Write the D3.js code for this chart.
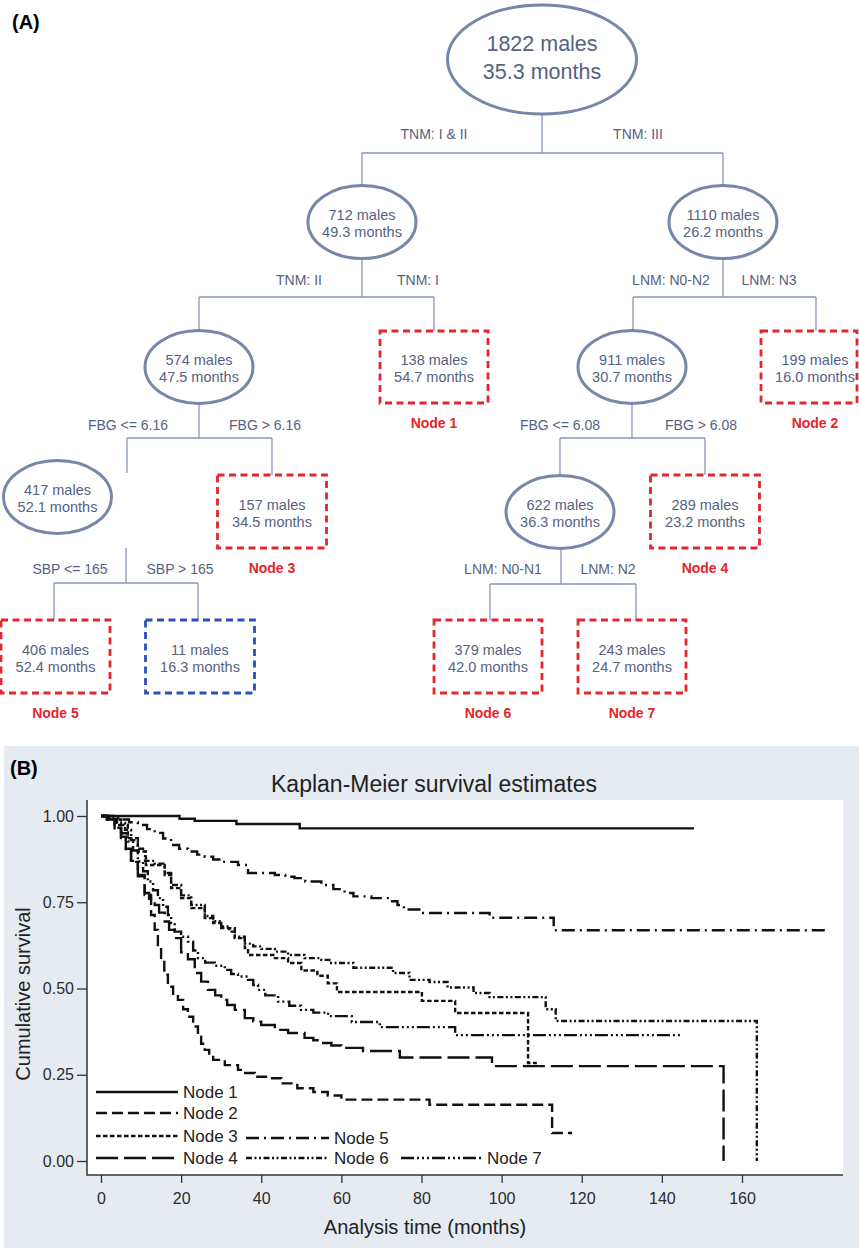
<!DOCTYPE html>
<html>
<head>
<meta charset="utf-8">
<script src="https://cdn.jsdelivr.net/npm/d3@7"></script>
<style>
body { margin: 0; background: #fff; }
svg { display: block; font-family: Arial, "Liberation Sans", sans-serif; }
</style>
</head>
<body>
<script>
var w = 859;
var h = 1249;

// ---------- panel A data ----------
var treeIds = ["root", "n712", "n1110", "n574", "node1", "n911", "node2", "n417", "node3", "n622", "node4", "node5", "n11", "node6", "node7"];
var treeCounts = [1822, 712, 1110, 574, 138, 911, 199, 417, 157, 622, 289, 406, 11, 379, 243];
var treeMonths = ["35.3", "49.3", "26.2", "47.5", "54.7", "30.7", "16.0", "52.1", "34.5", "36.3", "23.2", "52.4", "16.3", "42.0", "24.7"];
var treeNames = [null, null, null, null, "Node 1", null, "Node 2", null, "Node 3", null, "Node 4", "Node 5", null, "Node 6", "Node 7"];

var splitLeft = ["TNM: I & II", "TNM: II", "LNM: N0-N2", "FBG <= 6.16", "FBG <= 6.08", "SBP <= 165", "LNM: N0-N1"];
var splitRight = ["TNM: III", "TNM: I", "LNM: N3", "FBG > 6.16", "FBG > 6.08", "SBP > 165", "LNM: N2"];

// ---------- panel B data ----------
var nodeLabels = ["Node 1", "Node 2", "Node 3", "Node 4", "Node 5", "Node 6", "Node 7"];
var yTicks = [0, 0.25, 0.5, 0.75, 1];
var xTicks = [0, 20, 40, 60, 80, 100, 120, 140, 160];

var node1Surv = [[0,1],[19.6,0.992],[23.4,0.986],[33.8,0.977],[49.6,0.964],[148,0.964]];
var node2Surv = [[0,1],[1.5,0.99],[3.4,0.964],[5,0.936],[6.2,0.9],[7.5,0.867],[9.2,0.829],[10.9,0.771],[12.5,0.713],[13.4,0.67],[14.2,0.626],[15,0.583],[15.8,0.54],[16.7,0.505],[18,0.485],[19.2,0.467],[20.5,0.44],[21.7,0.418],[23,0.39],[24.2,0.36],[25,0.34],[25.9,0.322],[27,0.305],[28,0.293],[30.9,0.278],[34.2,0.264],[36,0.255],[38.4,0.244],[41.7,0.24],[45,0.225],[49,0.211],[53,0.2],[56.6,0.19],[60,0.178],[82,0.163],[112.6,0.081],[117.6,0.081]];
var node3Surv = [[0,1],[2,0.99],[5,0.974],[6.7,0.936],[9.2,0.897],[11.2,0.858],[15.9,0.829],[17.5,0.791],[20,0.762],[22.5,0.733],[25.9,0.704],[28,0.69],[30,0.675],[33.4,0.646],[35.9,0.617],[36.7,0.597],[43.4,0.588],[46.7,0.574],[50,0.552],[54,0.537],[56.6,0.515],[58.9,0.49],[80.1,0.464],[88.4,0.429],[106.6,0.284],[108.8,0.284]];
var node4Surv = [[0,1],[1.5,0.99],[3.4,0.966],[5,0.94],[6.2,0.905],[7.5,0.87],[9.2,0.825],[10.9,0.777],[12,0.76],[13.4,0.742],[14.5,0.72],[15.9,0.694],[17,0.67],[18.4,0.646],[20,0.605],[21.7,0.585],[23.4,0.545],[25,0.52],[26.7,0.496],[28.5,0.48],[30,0.467],[31.5,0.452],[33.4,0.438],[35.9,0.414],[38,0.404],[40,0.394],[43.4,0.38],[46.7,0.371],[50.8,0.357],[53,0.35],[55,0.342],[57.5,0.335],[60,0.328],[65.4,0.319],[74.6,0.3],[97.6,0.275],[155.4,0]];
var node5Surv = [[0,1],[3,0.995],[5,0.99],[7,0.982],[9.2,0.974],[11.5,0.962],[13.4,0.951],[15.5,0.935],[17.5,0.916],[19.5,0.905],[21.7,0.897],[24,0.888],[25.9,0.882],[28,0.874],[30,0.867],[34.2,0.858],[36.7,0.835],[43.4,0.829],[46,0.824],[48.3,0.82],[51,0.81],[55,0.8],[58,0.788],[60.8,0.777],[63,0.767],[67.5,0.762],[72,0.753],[74,0.742],[75.6,0.729],[80,0.719],[97,0.705],[113,0.669],[181,0.669]];
var node6Surv = [[0,1],[2,0.995],[4,0.98],[6,0.96],[7.5,0.93],[9.2,0.905],[11,0.87],[13.4,0.862],[15.9,0.835],[17.5,0.8],[20,0.77],[22.5,0.742],[25.9,0.71],[28,0.695],[30,0.68],[32,0.665],[33.4,0.65],[35.9,0.63],[38,0.622],[40,0.615],[43.4,0.607],[46.7,0.597],[50.8,0.588],[55,0.583],[57,0.574],[63,0.56],[72.9,0.545],[77,0.525],[82,0.519],[86.5,0.503],[93,0.487],[97,0.475],[111,0.44],[113.5,0.406],[163.7,0]];
var node7Surv = [[0,1],[1.5,0.992],[3.4,0.974],[5,0.95],[6.7,0.926],[8,0.9],[9.2,0.868],[10.5,0.84],[11.7,0.81],[13,0.785],[14.2,0.762],[15.5,0.737],[16.7,0.713],[17.5,0.69],[18.4,0.665],[20,0.65],[21.7,0.636],[23,0.61],[24.2,0.588],[26,0.575],[28.4,0.566],[30.9,0.554],[32.5,0.542],[34.2,0.535],[36.7,0.525],[38,0.51],[39.2,0.496],[41,0.48],[44.2,0.462],[47,0.45],[49.9,0.438],[53,0.43],[56.7,0.42],[62.6,0.403],[69.6,0.388],[88.4,0.365],[144.5,0.365]];

var survSeries = [node1Surv, node2Surv, node3Surv, node4Surv, node5Surv, node6Surv, node7Surv];

// ---------- layout / style ----------
var textCol = "#56627f";
var lineCol = "#8797bb";
var ellCol = "#7687a9";
var redCol = "#e2262b";
var blueCol = "#2c4fbf";

var treeLayout = {
  root:  {x: 542, y: 59.5, shape: "ellipse", rx: 94.5, ry: 54.5, big: true},
  n712:  {x: 362, y: 222, shape: "ellipse", rx: 54, ry: 36.5},
  n1110: {x: 723, y: 222, shape: "ellipse", rx: 54, ry: 36.5},
  n574:  {x: 199, y: 367, shape: "ellipse", rx: 54, ry: 36.5},
  node1: {x: 434, y: 367, shape: "box", bw: 108, bh: 72, col: redCol},
  n911:  {x: 632, y: 367, shape: "ellipse", rx: 54, ry: 36.5},
  node2: {x: 809, y: 367, shape: "box", bw: 96, bh: 72, col: redCol, tx: 815},
  n417:  {x: 57.5, y: 497, shape: "ellipse", rx: 54, ry: 36.5},
  node3: {x: 272, y: 511.5, shape: "box", bw: 109, bh: 73, col: redCol},
  n622:  {x: 560, y: 512, shape: "ellipse", rx: 54, ry: 36.5},
  node4: {x: 705, y: 511.5, shape: "box", bw: 109, bh: 73, col: redCol},
  node5: {x: 55.5, y: 656.5, shape: "box", bw: 109, bh: 73, col: redCol},
  n11:   {x: 200, y: 656.5, shape: "box", bw: 109, bh: 73, col: blueCol},
  node6: {x: 488, y: 656.5, shape: "box", bw: 108, bh: 73, col: redCol},
  node7: {x: 632, y: 656.5, shape: "box", bw: 108, bh: 73, col: redCol}
};

var splitLayout = [
  {tx: 542, y0: 114, bar: 153, drops: [362, 723], ends: [185, 185], lx: [434, 638], ly: 139},
  {tx: 362, y0: 259, bar: 297, drops: [199, 434], ends: [331, 331], lx: [299, 418], ly: 284.5},
  {tx: 723, y0: 259, bar: 297, drops: [633, 816], ends: [331, 331], lx: [671, 769], ly: 284.5},
  {tx: 199, y0: 403, bar: 438, drops: [127, 272], ends: [473, 475], lx: [128, 265], ly: 430},
  {tx: 632, y0: 403, bar: 438, drops: [560, 705], ends: [475, 475], lx: [560, 701], ly: 430},
  {tx: 126, y0: 548, bar: 583, drops: [54, 198], ends: [620, 620], lx: [70, 180], ly: 574},
  {tx: 561, y0: 549, bar: 584, drops: [490, 636], ends: [620, 620], lx: [503, 608], ly: 574}
];

var svg = d3.select("body")
  .append("svg")
  .attr("width", w)
  .attr("height", h);

svg.append("rect").attr("width", w).attr("height", h).attr("fill", "#fff");

// ---------- (A) tree ----------
svg.append("text")
  .attr("x", 12).attr("y", 29)
  .attr("font-size", 20).attr("font-weight", "bold")
  .text("(A)");

var conn = svg.append("g")
  .attr("stroke", lineCol)
  .attr("stroke-width", 1.3)
  .attr("fill", "none");

splitLayout.forEach(function(s, i) {
  var p = d3.path();
  p.moveTo(s.tx, s.y0); p.lineTo(s.tx, s.bar);
  p.moveTo(s.drops[0], s.bar); p.lineTo(s.drops[1], s.bar);
  s.drops.forEach(function(dx, j) {
    p.moveTo(dx, s.bar); p.lineTo(dx, s.ends[j]);
  });
  conn.append("path").attr("d", p.toString());

  [splitLeft[i], splitRight[i]].forEach(function(lab, j) {
    svg.append("text")
      .attr("x", s.lx[j]).attr("y", s.ly)
      .attr("text-anchor", "middle")
      .attr("font-size", 14)
      .attr("fill", textCol)
      .text(lab);
  });
});

var treeNodes = treeIds.map(function(id, i) {
  return {id: id, count: treeCounts[i], months: treeMonths[i], name: treeNames[i], lay: treeLayout[id]};
});

var ng = svg.selectAll("g.tnode")
  .data(treeNodes)
  .enter()
  .append("g")
  .attr("class", "tnode");

ng.filter(function(d) { return d.lay.shape == "ellipse"; })
  .append("ellipse")
  .attr("cx", function(d) { return d.lay.x; })
  .attr("cy", function(d) { return d.lay.y; })
  .attr("rx", function(d) { return d.lay.rx; })
  .attr("ry", function(d) { return d.lay.ry; })
  .attr("fill", "#fff")
  .attr("stroke", ellCol)
  .attr("stroke-width", 3);

ng.filter(function(d) { return d.lay.shape == "box"; })
  .append("rect")
  .attr("x", function(d) { return d.lay.x - d.lay.bw / 2; })
  .attr("y", function(d) { return d.lay.y - d.lay.bh / 2; })
  .attr("width", function(d) { return d.lay.bw; })
  .attr("height", function(d) { return d.lay.bh; })
  .attr("fill", "#fff")
  .attr("stroke", function(d) { return d.lay.col; })
  .attr("stroke-width", 2.8)
  .attr("stroke-dasharray", "7,4.5");

ng.append("text")
  .attr("x", function(d) { return d.lay.tx || d.lay.x; })
  .attr("y", function(d) { return d.lay.big ? d.lay.y - 8.5 : d.lay.y - 2; })
  .attr("text-anchor", "middle")
  .attr("font-size", function(d) { return d.lay.big ? 21.5 : 14.5; })
  .attr("fill", textCol)
  .text(function(d) { return d.count + " males"; });

ng.append("text")
  .attr("x", function(d) { return d.lay.tx || d.lay.x; })
  .attr("y", function(d) { return d.lay.big ? d.lay.y + 19.5 : d.lay.y + 15; })
  .attr("text-anchor", "middle")
  .attr("font-size", function(d) { return d.lay.big ? 21.5 : 14.5; })
  .attr("fill", textCol)
  .text(function(d) { return d.months + " months"; });

ng.filter(function(d) { return d.name; })
  .append("text")
  .attr("x", function(d) { return d.lay.tx || d.lay.x; })
  .attr("y", function(d) { return d.lay.y + d.lay.bh / 2 + 25; })
  .attr("text-anchor", "middle")
  .attr("font-size", 14)
  .attr("font-weight", "bold")
  .attr("fill", redCol)
  .text(function(d) { return d.name; });

// ---------- (B) Kaplan-Meier ----------
svg.append("rect")
  .attr("x", 4).attr("y", 746)
  .attr("width", w - 4).attr("height", 502)
  .attr("fill", "#e5ebf0");

svg.append("rect")
  .attr("x", 87).attr("y", 800)
  .attr("width", 756).attr("height", 375)
  .attr("fill", "#fff");

svg.append("text")
  .attr("x", 10).attr("y", 775)
  .attr("font-size", 20).attr("font-weight", "bold")
  .text("(B)");

svg.append("text")
  .attr("x", 434).attr("y", 792)
  .attr("text-anchor", "middle")
  .attr("font-size", 23)
  .attr("fill", "#222")
  .text("Kaplan-Meier survival estimates");

var xScale = d3.scaleLinear().domain([0, 160]).range([101, 742]);
var yScale = d3.scaleLinear().domain([0, 1]).range([1161, 816]);

var yAxis = d3.axisLeft(yScale)
  .tickValues(yTicks)
  .tickFormat(d3.format(".2f"))
  .tickSize(10)
  .tickPadding(3);

var xAxis = d3.axisBottom(xScale)
  .tickValues(xTicks)
  .tickSize(8)
  .tickPadding(10);

var gy = svg.append("g")
  .attr("transform", "translate(87,0)")
  .call(yAxis);

var gx = svg.append("g")
  .attr("transform", "translate(0,1175)")
  .call(xAxis);

[gx, gy].forEach(function(g) {
  g.select(".domain").remove();
  g.selectAll(".tick line").attr("stroke", "#333").attr("stroke-width", 1.3);
  g.selectAll(".tick text").attr("font-size", 16).attr("fill", "#2b2b2b")
    .attr("font-family", "Arial, 'Liberation Sans', sans-serif");
});

svg.append("path")
  .attr("d", "M87,800V1175H843")
  .attr("fill", "none")
  .attr("stroke", "#333")
  .attr("stroke-width", 1.5);

svg.append("text")
  .attr("transform", "translate(30,994) rotate(-90)")
  .attr("text-anchor", "middle")
  .attr("font-size", 20)
  .attr("fill", "#222")
  .text("Cumulative survival");

svg.append("text")
  .attr("x", 425).attr("y", 1234)
  .attr("text-anchor", "middle")
  .attr("font-size", 20)
  .attr("fill", "#222")
  .text("Analysis time (months)");

var dashes = [null, "11,5", "4.5,2.5", "22,6", "13,5,2,5", "6,2.5,2,2.5,2,2.5", "13,3,2,3,2,3,2,3"];

var kmLine = d3.line()
  .x(function(d) { return xScale(d[0]); })
  .y(function(d) { return yScale(d[1]); })
  .curve(d3.curveStepAfter);

svg.selectAll("path.km")
  .data(survSeries)
  .enter()
  .append("path")
  .attr("class", "km")
  .attr("d", kmLine)
  .attr("fill", "none")
  .attr("stroke", "#111")
  .attr("stroke-width", 2.4)
  .attr("stroke-dasharray", function(d, i) { return dashes[i]; });

// legend
var legendLayout = [
  {x0: 96, x1: 178, y: 1092},
  {x0: 96, x1: 178, y: 1113},
  {x0: 96, x1: 178, y: 1136},
  {x0: 96, x1: 178, y: 1158},
  {x0: 246, x1: 329, y: 1138},
  {x0: 246, x1: 329, y: 1158},
  {x0: 401, x1: 482, y: 1158}
];

nodeLabels.forEach(function(lab, i) {
  var L = legendLayout[i];
  svg.append("line")
    .attr("x1", L.x0).attr("x2", L.x1)
    .attr("y1", L.y).attr("y2", L.y)
    .attr("stroke", "#111")
    .attr("stroke-width", 2.4)
    .attr("stroke-dasharray", dashes[i]);
  svg.append("text")
    .attr("x", L.x1 + 5).attr("y", L.y + 6)
    .attr("font-size", 17)
    .attr("fill", "#222")
    .text(lab);
});
</script>
</body>
</html>
